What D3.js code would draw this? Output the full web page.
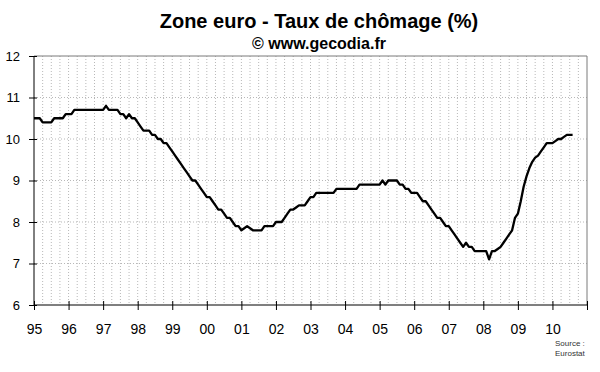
<!DOCTYPE html>
<html lang="fr">
<head>
    <meta charset="UTF-8">
    <title>Zone euro - Taux de chômage</title>
    <script src="https://d3js.org/d3.v7.min.js"></script>
    <style>
        body { margin: 0; background: #fff; }
        text { font-family: "Liberation Sans", Arial, sans-serif; fill: #000; }
        .grid line { stroke: #b8b8b8; stroke-width: 1; stroke-dasharray: 1,2; }
        .axis text { font-size: 13px; }
        .xaxis text { font-size: 14px; }
        .axis line { stroke: #000; }
        .rate { fill: none; stroke: #000; stroke-width: 2.3; stroke-linejoin: round; }
    </style>
</head>
<body>
    <script>
        // Monthly unemployment rate, Jan 1995 -> Aug 2010
        const startYear = 1995;
        const rates = [
            10.5, 10.5, 10.5, 10.4, 10.4, 10.4, 10.4, 10.5, 10.5, 10.5, 10.5, 10.6, // 1995
            10.6, 10.6, 10.7, 10.7, 10.7, 10.7, 10.7, 10.7, 10.7, 10.7, 10.7, 10.7, // 1996
            10.7, 10.8, 10.7, 10.7, 10.7, 10.7, 10.6, 10.6, 10.5, 10.6, 10.5, 10.5, // 1997
            10.4, 10.3, 10.2, 10.2, 10.2, 10.1, 10.1, 10.0, 10.0, 9.9, 9.9, 9.8,    // 1998
            9.7, 9.6, 9.5, 9.4, 9.3, 9.2, 9.1, 9.0, 9.0, 8.9, 8.8, 8.7,             // 1999
            8.6, 8.6, 8.5, 8.4, 8.3, 8.3, 8.2, 8.1, 8.1, 8.0, 7.9, 7.9,             // 2000
            7.8, 7.85, 7.9, 7.85, 7.8, 7.8, 7.8, 7.8, 7.9, 7.9, 7.9, 7.9,           // 2001
            8.0, 8.0, 8.0, 8.1, 8.2, 8.3, 8.3, 8.35, 8.4, 8.4, 8.4, 8.5,            // 2002
            8.6, 8.6, 8.7, 8.7, 8.7, 8.7, 8.7, 8.7, 8.7, 8.8, 8.8, 8.8,             // 2003
            8.8, 8.8, 8.8, 8.8, 8.8, 8.9, 8.9, 8.9, 8.9, 8.9, 8.9, 8.9,             // 2004
            8.9, 9.0, 8.9, 9.0, 9.0, 9.0, 9.0, 8.9, 8.9, 8.8, 8.8, 8.7,             // 2005
            8.7, 8.7, 8.6, 8.5, 8.5, 8.4, 8.3, 8.2, 8.1, 8.1, 8.0, 7.9,             // 2006
            7.9, 7.8, 7.7, 7.6, 7.5, 7.4, 7.5, 7.4, 7.4, 7.3, 7.3, 7.3,             // 2007
            7.3, 7.3, 7.1, 7.3, 7.3, 7.35, 7.4, 7.5, 7.6, 7.7, 7.8, 8.1,            // 2008
            8.2, 8.5, 8.85, 9.1, 9.3, 9.45, 9.55, 9.6, 9.7, 9.8, 9.9, 9.9,          // 2009
            9.9, 9.95, 10.0, 10.0, 10.05, 10.1, 10.1, 10.1                          // 2010
        ];
        const yearTicks = d3.range(1995, 2011);
        const yearLabels = ["95", "96", "97", "98", "99", "00", "01", "02", "03", "04", "05", "06", "07", "08", "09", "10"];
        const yTicks = [6, 7, 8, 9, 10, 11, 12];

        const width = 600;
        const height = 372;
        const plotLeft = 34, plotRight = 587, plotTop = 56, plotBottom = 305;

        const svg = d3.select("body")
            .append("svg")
            .attr("width", width)
            .attr("height", height);

        const x = d3.scaleLinear().domain([1995, 2011]).range([plotLeft, plotRight]);
        const y = d3.scaleLinear().domain([6, 12]).range([plotBottom, plotTop]);

        // Titles
        svg.append("text")
            .attr("x", 319).attr("y", 28)
            .attr("text-anchor", "middle")
            .style("font-size", "20px").style("font-weight", "bold")
            .text("Zone euro - Taux de chômage (%)");
        svg.append("text")
            .attr("x", 319).attr("y", 49)
            .attr("text-anchor", "middle")
            .style("font-size", "16px").style("font-weight", "bold")
            .text("© www.gecodia.fr");

        // Grid: horizontal at each unit, vertical every quarter
        const quarters = d3.range(1, 64).map(q => 1995 + q / 4);
        svg.append("g").attr("class", "grid")
            .selectAll("line")
            .data(quarters)
            .enter().append("line")
            .attr("x1", d => x(d)).attr("x2", d => x(d))
            .attr("y1", plotTop).attr("y2", plotBottom);
        svg.append("g").attr("class", "grid")
            .selectAll("line")
            .data(yTicks.slice(1, -1))
            .enter().append("line")
            .attr("x1", plotLeft).attr("x2", plotRight)
            .attr("y1", d => y(d)).attr("y2", d => y(d));

        // Frame: grey top/right, black axes
        svg.append("path")
            .attr("d", `M${plotLeft},${plotTop}H${plotRight}V${plotBottom}`)
            .attr("fill", "none").attr("stroke", "#7a7a7a");

        const yAxis = svg.append("g")
            .attr("class", "axis")
            .attr("transform", `translate(${plotLeft},0)`)
            .call(d3.axisLeft(y).tickValues(yTicks).tickFormat(d3.format("d")).tickSize(5).tickPadding(9));
        yAxis.selectAll(".tick line").attr("x1", 3);
        yAxis.select(".domain").remove();

        const xAxis = svg.append("g")
            .attr("class", "axis xaxis")
            .attr("transform", `translate(0,${plotBottom})`)
            .call(d3.axisBottom(x).tickValues(yearTicks.concat([2011]))
                .tickFormat((d, i) => yearLabels[i] || "").tickSize(5).tickPadding(14));
        xAxis.selectAll(".tick line").attr("y1", -4);
        xAxis.select(".domain").remove();

        svg.append("line")
            .attr("x1", plotLeft).attr("x2", plotLeft).attr("y1", plotTop).attr("y2", plotBottom)
            .attr("stroke", "#000");
        svg.append("line")
            .attr("x1", plotLeft).attr("x2", plotRight).attr("y1", plotBottom).attr("y2", plotBottom)
            .attr("stroke", "#000");

        // Unemployment line
        const line = d3.line()
            .x((d, i) => x(startYear + i / 12))
            .y(d => y(d));
        svg.append("path")
            .datum(rates)
            .attr("class", "rate")
            .attr("d", line);

        // Source note
        const note = svg.append("text")
            .attr("x", 555).attr("y", 346)
            .style("font-size", "8px").style("fill", "#333");
        note.append("tspan").attr("x", 555).text("Source :");
        note.append("tspan").attr("x", 555).attr("dy", 10).text("Eurostat");
    </script>
</body>
</html>
